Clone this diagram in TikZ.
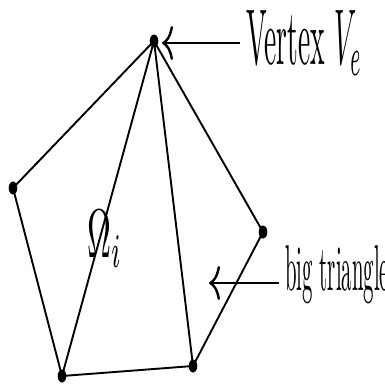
\documentclass[tikz,border=0pt]{standalone}
\usetikzlibrary{arrows.meta}
\begin{document}
\begin{tikzpicture}[x=1pt,y=-1pt,
  edge/.style={line width=1.9pt},
  vdot/.style={fill=black,draw=none},
  pointer/.style={line width=2.4pt,-{Computer Modern Rightarrow[length=11pt,width=34pt,line width=2.4pt]}},
  lbl/.style={inner sep=0pt,anchor=base west}]
\useasboundingbox (0,0) rectangle (385,384);
\coordinate (T) at (154,41);
\coordinate (L) at (13,188);
\coordinate (BL) at (62,376);
\coordinate (BR) at (193,366);
\coordinate (R) at (263,232);
\draw[edge] (T) -- (L) -- (BL) -- (BR) -- (R) -- cycle;
\draw[edge] (T) -- (BL);
\draw[edge] (T) -- (BR);
\foreach \p in {T,L,BL,BR,R} \fill[vdot] (\p) ellipse [x radius=4.3, y radius=6.5];
\node[lbl] (vlab) at (246,64) {\resizebox{116pt}{54pt}{Vertex $V_e$}};
\node[lbl] (blab) at (285,290) {\resizebox{104pt}{45pt}{big triangle}};
\node[lbl] (om) at (87,257) {\resizebox{35pt}{47pt}{$\Omega_i$}};
\coordinate (va) at (240,43);
\coordinate (vt) at (162,43);
\coordinate (ba) at (279,283);
\coordinate (bt) at (209,283);
\draw[pointer] (va) -- (vt);
\draw[pointer] (ba) -- (bt);
\end{tikzpicture}
\end{document}
